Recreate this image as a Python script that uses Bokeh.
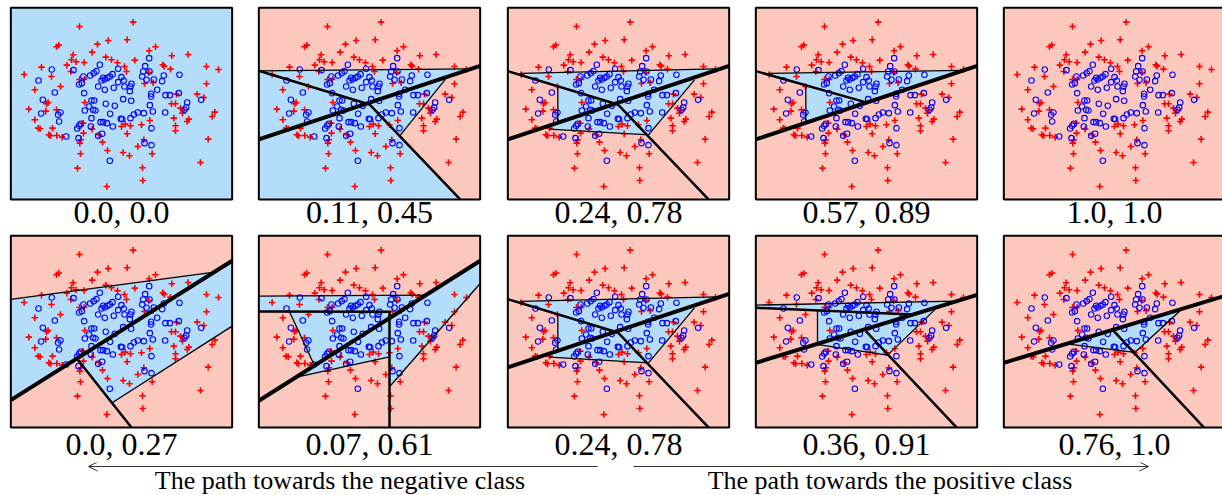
from bokeh.plotting import figure
from bokeh.models import Range1d, Arrow, OpenHead
from bokeh.layouts import column, row
from bokeh.embed import file_html
from bokeh.resources import INLINE
from bokeh.core.properties import value

# ---------------- data (units: panel frame spans x 8..672, y 22..597, y downward) -------------
labels = ["0.0, 0.0", "0.11, 0.45", "0.24, 0.78", "0.57, 0.89", "1.0, 1.0",
          "0.0, 0.27", "0.07, 0.61", "0.24, 0.78", "0.36, 0.91", "0.76, 1.0"]
panel_bg = ["B", "P", "P", "P", "P", "P", "P", "P", "P", "P"]
caption_left = "The path towards the negative class"
caption_right = "The path towards the positive class"

red_x = [375,214,300,357,268,145,152,442,423,252,195,540,491,293,190,204,228,310,328,380,176,349,464,468,487,595,631,100,188,355,422,48,130,214,228,409,435,595,157,80,505,567,587,62,115,120,113,145,80,90,96,133,122,127,146,162,230,225,226,218,215,217,208,296,252,273,283,298,340,345,364,490,502,517,527,523,620,612,497,542,537,425,400,367,351,502,502,357,407,389,432,600,577,403,404]
red_y = [65,78,120,118,131,139,134,139,151,155,163,162,166,170,178,184,186,178,187,179,194,198,193,197,206,198,207,200,213,213,216,222,228,237,237,249,247,250,258,268,281,281,291,326,310,306,332,328,358,383,385,383,403,406,405,410,306,368,398,418,428,460,503,558,386,403,425,450,378,456,466,310,310,323,330,338,335,348,353,356,363,360,373,376,371,376,391,400,418,438,460,416,486,502,540]

blue_x = [423,275,411,131,196,330,405,424,265,257,246,313,305,290,285,226,402,415,437,462,467,514,91,213,221,270,290,317,330,347,349,370,367,365,447,429,429,472,485,512,579,228,140,104,250,258,345,369,99,150,157,153,174,207,213,218,211,230,243,255,262,250,248,277,285,296,282,270,306,293,320,338,314,305,425,434,407,389,377,367,342,430,471,537,534,529,409,430,298,280,340]
blue_y = [173,193,197,207,209,205,213,213,212,218,225,221,228,237,232,228,228,238,237,242,225,223,240,252,248,258,268,262,245,240,258,250,258,272,268,280,288,284,284,278,298,278,276,298,300,300,296,301,339,343,336,363,408,384,376,370,413,330,318,328,330,353,378,365,365,368,400,406,340,310,316,355,378,481,314,333,338,336,342,353,356,383,336,306,321,328,428,434,232,240,230]

# blue (positive) regions drawn over the panel background
regions_x = [
    [],
    [[8, 635, 568, 432, 612, 8]],
    [[46, 633, 568, 430, 133, 158, 158, 46]],
    [[46, 628, 158, 158, 46]],
    [],
    [[8, 613, 8], [206, 672, 672, 313]],
    [[8, 509, 672, 672, 400, 400, 118, 175, 100, 8]],
    [[46, 633, 568, 430, 133, 158, 158, 46]],
    [[8, 608, 553, 403, 193, 193, 8]],
    [[196, 541, 401]],
]
regions_y = [
    [],
    [[211, 205, 236, 405, 597, 597]],
    [[219, 205, 238, 403, 386, 368, 257, 223]],
    [[219, 210, 366, 255, 223]],
    [],
    [[213, 132, 515], [390, 97, 293, 524]],
    [[203, 200, 97, 165, 475, 385, 447, 411, 250, 249]],
    [[219, 205, 238, 403, 386, 368, 257, 223]],
    [[230, 218, 236, 380, 350, 246, 238]],
    [[346, 243, 372]],
]

thick_x = [[], [8, 672], [8, 672], [8, 672], [], [8, 672], [8, 672], [8, 672], [8, 672], [8, 672]]
thick_y = [[], [417, 196], [417, 196], [417, 196], [], [515, 97], [517, 97], [417, 196], [403, 199], [403, 202]]

medium_x = [[], [[8, 340, 612]], [[8, 338, 610]], [[8, 336]], [], [[206, 370]],
            [[8, 404], [400, 400]], [[8, 338, 610]], [[8, 478], [338, 610]], [[336, 608]]]
medium_y = [[], [[211, 312, 597]], [[212, 312, 597]], [[212, 305]], [], [[390, 597]],
            [[249, 250], [250, 597]], [[212, 312, 597]], [[238, 258], [308, 597]], [[306, 597]]]

thin_x = [[], [[8, 635], [432, 568]],
          [[46, 633], [430, 568], [158, 158], [133, 430]],
          [[46, 628], [158, 158]], [],
          [[8, 613], [313, 672]],
          [[8, 509], [100, 175], [118, 400], [400, 672]],
          [[46, 633], [430, 568], [158, 158], [133, 430]],
          [[8, 608], [193, 193], [190, 403], [403, 553]],
          [[196, 401], [401, 541]]]
thin_y = [[], [[211, 205], [405, 236]],
          [[219, 205], [403, 238], [257, 368], [386, 403]],
          [[219, 210], [255, 366]], [],
          [[213, 132], [522, 293]],
          [[203, 200], [250, 411], [447, 385], [475, 165]],
          [[219, 205], [403, 238], [257, 368], [386, 403]],
          [[230, 218], [246, 350], [348, 380], [380, 236]],
          [[346, 372], [372, 243]]]

# ---------------- styling / layout -------------
BLUE_BG = "#B4DDFB"
PINK_BG = "#FCC8BE"
FIG_W = [248, 249, 248, 248, 229]
ROW_TOP = [0, 231]          # page pixel where each row of figures starts
ROW_H = [231, 231]
PANEL_TOP = [7.3, 235.3]    # page pixel of each row's panel top border
LABEL_PX = [211.5, 443]     # page pixel of label centre
S = 3.0
X0 = 8 - 10.33 * S
SERIF = value("Liberation Serif")


def make_panel(i):
    c, r = i % 5, i // 5
    w, h = FIG_W[c], ROW_H[r]
    top = 22 - (PANEL_TOP[r] - ROW_TOP[r]) * S
    p = figure(width=w, height=h, x_range=Range1d(X0, X0 + w * S),
               y_range=Range1d(top + h * S, top), output_backend="svg",
               toolbar_location=None, min_border=0,
               x_axis_location=None, y_axis_location=None)
    p.grid.visible = False
    p.outline_line_color = None
    p.background_fill_color = "white"
    p.border_fill_color = "white"
    bg = BLUE_BG if panel_bg[i] == "B" else PINK_BG
    p.quad(left=[8], right=[672], top=[22], bottom=[597], fill_color=bg, line_color=None)
    if regions_x[i]:
        p.patches(xs=regions_x[i], ys=regions_y[i], fill_color=BLUE_BG, line_color=None)
    p.scatter(red_x, red_y, marker="cross", size=6.5, line_color="red", line_width=1.6)
    p.scatter(blue_x, blue_y, marker="circle", size=5.5, fill_color=None,
              line_color="blue", line_width=1.1)
    if thin_x[i]:
        p.multi_line(xs=thin_x[i], ys=thin_y[i], line_color="black", line_width=1.3)
    if medium_x[i]:
        p.multi_line(xs=medium_x[i], ys=medium_y[i], line_color="black", line_width=2.5)
    if thick_x[i]:
        p.line(thick_x[i], thick_y[i], line_color="black", line_width=4)
    p.quad(left=[8], right=[672], top=[22], bottom=[597], fill_color=None,
           line_color="black", line_width=2)
    ly = top + (LABEL_PX[r] - ROW_TOP[r]) * S
    p.text(x=[340], y=[ly], text=[labels[i]], text_align="center",
           text_baseline="middle", text_font=SERIF, text_font_size="32px", text_color="black")
    return p


panels = [make_panel(i) for i in range(10)]

b_top = ROW_TOP[1] + ROW_H[1]
b = figure(width=1222, height=495 - b_top, x_range=Range1d(0, 1222), y_range=Range1d(495, b_top),
           output_backend="svg", toolbar_location=None, min_border=0,
           x_axis_location=None, y_axis_location=None)
b.grid.visible = False
b.outline_line_color = None
b.add_layout(Arrow(end=OpenHead(size=9, line_width=1, line_color="#333333"),
                   x_start=597, y_start=466, x_end=88, y_end=466,
                   line_width=1, line_color="#333333"))
b.add_layout(Arrow(end=OpenHead(size=9, line_width=1, line_color="#333333"),
                   x_start=633, y_start=466, x_end=1148, y_end=466,
                   line_width=1, line_color="#333333"))
b.text(x=[339.5, 889.5], y=[480, 480], text=[caption_left, caption_right],
       text_align="center", text_baseline="middle", text_font=SERIF,
       text_font_size="26px", text_color="black")

layout = column(row(*panels[:5]), row(*panels[5:]), b)
open("out.html", "w").write(file_html(layout, INLINE))
